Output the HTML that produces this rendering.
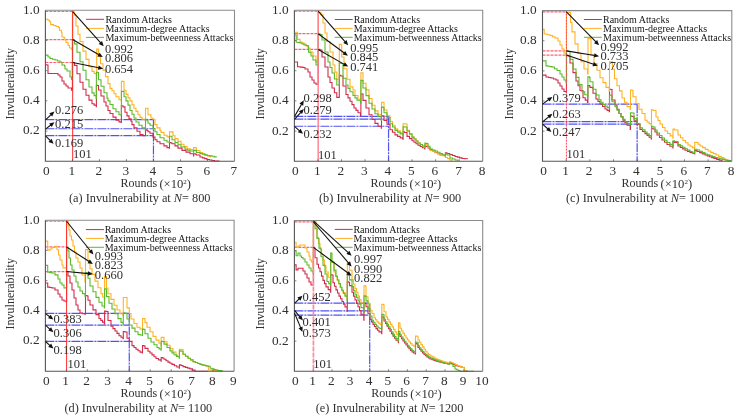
<!DOCTYPE html>
<html><head><meta charset="utf-8"><style>
html,body{margin:0;padding:0;background:#fff;}
svg{display:block;will-change:transform;}
text{font-family:"Liberation Serif",serif;fill:#303030;}
.yt{font-size:13.3px;text-anchor:end;}
.xt{font-size:13.3px;text-anchor:middle;}
.yl,.xl{font-size:12px;}
.yl{text-anchor:middle;}
.cap{font-size:12.3px;}
.lg{font-size:10px;fill:#151515;}
.an{font-size:12.5px;}
.cv{fill:none;stroke-width:1.1;stroke-linejoin:miter;}
.ax{fill:none;stroke:#555;stroke-width:1.1;}
.ax2{fill:none;stroke:#8c8c8c;stroke-width:1.1;}
.tk{stroke:#606060;stroke-width:0.8;}
.rd{stroke:#ff3a4e;stroke-width:1.2;stroke-dasharray:3 1;opacity:.8;}
.rv{}
.bd{stroke:#3434f0;stroke-width:1.2;stroke-dasharray:9 1 2 1;opacity:.85;}
</style></head><body>
<svg width="739" height="418" viewBox="0 0 739 418">
<rect width="739" height="418" fill="#fff"/>
<g><line x1="45.4" y1="11.51" x2="72.68" y2="11.51" class="rd"/><line x1="45.4" y1="39.57" x2="72.68" y2="39.57" class="rd"/><line x1="45.4" y1="62.51" x2="72.68" y2="62.51" class="rd"/><line x1="45.4" y1="119.55" x2="153.46" y2="119.55" class="bd"/><line x1="45.4" y1="128.76" x2="153.46" y2="128.76" class="bd"/><line x1="45.4" y1="135.7" x2="153.46" y2="135.7" class="bd"/><line x1="153.46" y1="119.55" x2="153.46" y2="161.2" class="bd"/><path d="M45.4 64.7H47V65H48V73.5H57V73.5H58V75H60V77H62V81H64V84H66V86H68V88H71.5V90.2H72.4V62.5H74V63H74.5V65.4H77V73.8H80V82.2H83V89.3H86V95.3H89V100.1H92V103.7H94.1V105.15H96.2V106.6H96.4V85.2H97.8V85.5H98.5V90H101V96H104V102H106V106H108V110.5H110V113.5H113V117.1H116V120.1H119V121.9H121.2V122.5H121.4V105.7H123V106.9H125V112.3H127V115.9H129V118.9H131V121.3H132V124.6H134V127.9H137V131.2H140V134.5H143V135.8H145.3V135.8H145.5V129.9H147V130.5H148V131.8H150V133.2H153V137.1H155V139.7H157V141.7H160V143.7H164V145.9H167V147.6H169.3V148.1H169.5V142.5H171V143H172V143.7H175V145.9H178V148.1H182V150.4H186V152.1H190V153.8H193.5V156H193.7V153.8H195.5V154.2H196.5V155H200V157H202.33V157.83H204.67V158.67H207V159.5H209.47V160H211.93V160.5H214.4V161H219.6V161" stroke="#d02c4c" class="cv"/><path d="M45.4 19.3H47.8V19.3H48V20.3H49.7V21.7H50.7V24.6H53.6V25.5H56V26.5H58.5V27.5H59.5V30.3H61.5V32.7H62V37H64V38H65V40H66V42.5H68V45.5H69.5V48H71.5V49.5H72.4V12H74V12H74.5V15.2H76V26H78V34.3H80V41.5H83V51.1H86V59.4H89V66.6H92V71.4H94.2V73.45H96.4V75.5H96.7V49H98V49.2H98.5V56.2H100.5V63.7H103V70.1H105.5V76.6H108V83.6H110V88.4H112V90.8H114V93.8H116V96.7H119V99.7H121.2V100.3H121.4V81.4H123.3V81.4H124V90.2H126V94.4H128V97.9H130V100.9H132V104.9H134V108.2H136V111.4H138V114.7H140V117.4H142V119.3H145.3V120.7H145.5V108.2H147.4V108.2H148V114.7H150.5V115H151V118H153V119.3H155V124.6H157V127.9H160V130.5H161V132.4H164V135.2H167V136.9H169.3V137.5H169.5V131.9H172.4V131.9H173V135.8H175V138.6H178V141.4H181V144.2H184V146.5H187V148.7H190.25V149.55H193.5V150.4H193.7V147.6H195.5V147.8H196.5V150.5H200V152.5H202.5V153.75H205V155H207.7V156.25H210.4V157.5" stroke="#ffb224" class="cv"/><path d="M45.4 55.1H48V57H50V58.5H52.5V59.25H55V60H57.5V61H60V62H61.5V62.5H62V65H64.5V66H65V69H67V71H70V77H71.5V79.5H72.4V39.6H74V40H74.5V43.9H77V52.3H80V61.8H83V70.2H86V79.8H89V87H92V92.9H94.1V95.65H96.2V98.4H96.4V72.3H97.8V72.5H98.5V79.8H101V86.3H104V92.8H107V98.1H108V100.9H110V104.5H113V108.7H116V111.7H119V114.7H121.2V115.3H121.4V91.4H123V91.4H124V96.7H126V100.9H128V105.1H130V110.5H132V114.2H134V118H136V122H139V125.3H142V127.9H145.3V129.9H145.5V119.3H147V120.7H148V123.3H150V125.3H153V128.6H155V131.8H157V134.5H160V137.8H164V140.3H167V142H169.3V142.5H169.5V136.3H171V136.3H172V139.7H175V142.5H178V144.8H181V147H185V149.3H187.5V150.15H190V151H193.5V152.1H193.7V150.4H195.5V150.6H196.5V152.5H200V153.5H202.33V154.17H204.67V154.83H207V155.5H209.5V155.9H212V156.3H214.1V156.9H216.2V157.5" stroke="#5dba2c" class="cv"/><line x1="72.68" y1="10.3" x2="72.68" y2="161.2" class="rv" style="stroke:#ff2a2a;stroke-width:1"/><path d="M45.4 10.3H234.5V161.2" class="ax2"/><path d="M45.4 10.3V161.2H234.5" class="ax"/><line x1="72.41" y1="161.2" x2="72.41" y2="159.2" class="tk"/><line x1="99.43" y1="161.2" x2="99.43" y2="159.2" class="tk"/><line x1="126.44" y1="161.2" x2="126.44" y2="159.2" class="tk"/><line x1="153.46" y1="161.2" x2="153.46" y2="159.2" class="tk"/><line x1="180.47" y1="161.2" x2="180.47" y2="159.2" class="tk"/><line x1="207.49" y1="161.2" x2="207.49" y2="159.2" class="tk"/><line x1="45.4" y1="131.02" x2="47.4" y2="131.02" class="tk"/><line x1="45.4" y1="100.84" x2="47.4" y2="100.84" class="tk"/><line x1="45.4" y1="70.66" x2="47.4" y2="70.66" class="tk"/><line x1="45.4" y1="40.48" x2="47.4" y2="40.48" class="tk"/><text x="39.6" y="134.42" class="yt">0.2</text><text x="39.6" y="104.24" class="yt">0.4</text><text x="39.6" y="74.06" class="yt">0.6</text><text x="39.6" y="43.88" class="yt">0.8</text><text x="39.6" y="13.7" class="yt">1.0</text><text x="46.4" y="175.1" class="xt">0</text><text x="71.71" y="175.1" class="xt">1</text><text x="98.73" y="175.1" class="xt">2</text><text x="125.74" y="175.1" class="xt">3</text><text x="152.76" y="175.1" class="xt">4</text><text x="179.77" y="175.1" class="xt">5</text><text x="206.79" y="175.1" class="xt">6</text><text x="233.8" y="175.1" class="xt">7</text><text transform="translate(14.1 83.75) rotate(-90)" class="yl">Invulnerability</text><text x="120.4" y="187.3" class="xl">Rounds<tspan dx="2.3" dy="0.5" font-size="12.6">(×10</tspan><tspan dy="-4.2" font-size="7">2</tspan><tspan dy="4.2" font-size="12.6">)</tspan></text><text x="69" y="201.8" class="cap">(a) Invulnerability at <tspan font-style="italic">N</tspan>= 800</text><line x1="86" y1="19.3" x2="104" y2="19.3" stroke="#d02c4c" stroke-width="1"/><text x="105.4" y="22.6" class="lg">Random Attacks</text><line x1="86" y1="28.4" x2="104" y2="28.4" stroke="#ffb224" stroke-width="1"/><text x="105.4" y="31.7" class="lg">Maximum-degree Attacks</text><line x1="86" y1="37.4" x2="104" y2="37.4" stroke="#5dba2c" stroke-width="1"/><text x="105.4" y="40.7" class="lg">Maximum-betweenness Attacks</text><line x1="72.68" y1="11.51" x2="100.71" y2="42.94" stroke="#111" stroke-width="1.1"/><path d="M103.7 46.3L98.73 44.03L102.02 41.1Z" fill="#111"/><text x="104.9" y="52.5" class="an">0.992</text><line x1="72.68" y1="39.57" x2="98.91" y2="54.84" stroke="#111" stroke-width="1.1"/><path d="M102.8 57.1L97.37 56.49L99.59 52.68Z" fill="#111"/><text x="104.9" y="62.3" class="an">0.806</text><line x1="72.68" y1="62.51" x2="98.79" y2="67.81" stroke="#111" stroke-width="1.1"/><path d="M103.2 68.7L97.86 69.86L98.74 65.55Z" fill="#111"/><text x="104.9" y="73" class="an">0.654</text><line x1="45.5" y1="119.8" x2="51.11" y2="114.57" stroke="#111" stroke-width="1.1"/><path d="M54.4 111.5L52.24 116.52L49.24 113.3Z" fill="#111"/><text x="55" y="113.9" class="an">0.276</text><line x1="45.5" y1="129.1" x2="50.84" y2="124.96" stroke="#111" stroke-width="1.1"/><path d="M54.4 122.2L51.8 127L49.1 123.52Z" fill="#111"/><text x="55" y="128" class="an">0.215</text><line x1="45.5" y1="135.9" x2="50.38" y2="140.66" stroke="#111" stroke-width="1.1"/><path d="M53.6 143.8L48.48 141.88L51.56 138.73Z" fill="#111"/><text x="55" y="146.6" class="an">0.169</text><text x="73" y="158.4" class="an">101</text></g>
<g><line x1="294.4" y1="11.06" x2="318.17" y2="11.06" class="rd"/><line x1="294.4" y1="33.71" x2="318.17" y2="33.71" class="rd"/><line x1="294.4" y1="49.41" x2="318.17" y2="49.41" class="rd"/><line x1="294.4" y1="116.3" x2="388.55" y2="116.3" class="bd"/><line x1="294.4" y1="119.17" x2="388.55" y2="119.17" class="bd"/><line x1="294.4" y1="126.27" x2="388.55" y2="126.27" class="bd"/><line x1="388.55" y1="116.3" x2="388.55" y2="161.3" class="bd"/><path d="M294.5 62H297V62H297.5V66.7H300.25V67.1H303V67.5H305V69H308V72H310V77H312V80H314V83H316V84.3H318.2V49.4H320V50H322V57H325V67H328V77H330V82.5H332V88H334.4V92.7H336.8V97.4H339V97.4H339.3V75.4H340.8V76H343V86H346V94.5H348V97.85H350V101.2H352V104.6H354V108H356V110.35H358V112.7H360.5V115.6H360.9V93.7H362V94H363V100.4H366V108H369V114.8H372V119.5H375V123.4H378V126.2H381.3V128.2H381.5V115.7H383V116H384V120.5H387V124.3H390V129.7H392.5V132.3H395V134.9H397.6V136.37H400.2V137.83H402.8V139.3H403.1V131.9H404.5V132.5H407V136.4H409.5V138.6H412V140.8H414V142.3H416V143.8H418V145.3H420.23V146.53H422.47V147.77H424.7V149H424.9V146H426V146.5H428V148H430V149.5H432.5V151H435V152.5H437.5V153.75H440V155H442.6V155.5H445.2V156H445.4V152.9H447V153.5H449.67V154.5H452.33V155.5H455V156.5H457.33V157.17H459.67V157.83H462V158.5H464.75V158.75H467.5V159" stroke="#d02c4c" class="cv"/><path d="M294.5 32.2H296.5V32.2H297.5V39.4H300V42H302V43H304V44H306V46H308V48H310V52H313V56H316V62H318.2V12.2H320V12.5H321V14.7H323V23H325V33H327V41.5H330V52H333V65H334.9V72.1H336.8V79.2H339V79.2H339.3V44.2H340.8V44.5H341.7V57H344V68.7H347V79.2H350V86.9H353V90H355V95.5H358V99.3H360.5V100H360.9V72.7H362V72.7H363V83.2H366V89.9H369V98.5H372V105.2H375V110.9H378V114.8H381.3V117.6H381.5V102.3H383V102.5H384V110H387V115.7H390V121.5H392.5V125.2H395V128.9H397.6V130.9H400.2V132.9H402.8V134.9H403.1V123.7H404.5V124H407V130.4H409.5V133.75H412V137.1H414V139.07H416V141.03H418V143H420.23V144.5H422.47V146H424.7V147.5H424.9V144.5H426V145H428V147.7H430V150.4H432.5V151.55H435V152.7H437.5V153.85H440V155H442.6V155.75H445.2V156.5H445.4V157.5H447.6V158.67H449.8V159.83H452V161" stroke="#ffb224" class="cv"/><path d="M294.5 35H295.8V35H296.2V42.3H298.1V42.65H300V43H302V44H304V45H306V45.5H308V46H308.5V52.3H311V56H313V60H316V65H318.2V33.7H320V34.5H322V40H325V52H328V62H330V67.5H332V73H334.4V79H336.8V85H339V85H339.3V63H340.8V63.5H343V78.3H346V85H348V88.35H350V91.7H353V95.5H355V97.9H357V100.3H360.5V103.2H360.9V80.3H362V80.5H363V88H366V95.6H369V103.3H372V109H375V113.8H378V116.7H381.3V120.5H381.5V107.1H383V107.5H384V112.8H387V117.6H390V123.7H392.5V127.05H395V130.4H397.6V132.13H400.2V133.87H402.8V135.6H403.1V126.7H404.5V127H407V131.2H409.5V134.15H412V137.1H414V139.07H416V141.03H418V143H420.23V144.5H422.47V146H424.7V147.5H424.9V143H426V143.5H428V146.25H430V149H432.5V150H435V151H437.5V152.25H440V153.5H442.6V154.75H445.2V156H445.4V153.9H447V155H450V158H452.57V159H455.13V160H457.7V161" stroke="#5dba2c" class="cv"/><line x1="318.17" y1="10.3" x2="318.17" y2="161.3" class="rv" style="stroke:#ff7d90;stroke-width:1.4"/><path d="M294.4 10.3H482.7V161.3" class="ax2"/><path d="M294.4 10.3V161.3H482.7" class="ax"/><line x1="317.94" y1="161.3" x2="317.94" y2="159.3" class="tk"/><line x1="341.47" y1="161.3" x2="341.47" y2="159.3" class="tk"/><line x1="365.01" y1="161.3" x2="365.01" y2="159.3" class="tk"/><line x1="388.55" y1="161.3" x2="388.55" y2="159.3" class="tk"/><line x1="412.09" y1="161.3" x2="412.09" y2="159.3" class="tk"/><line x1="435.62" y1="161.3" x2="435.62" y2="159.3" class="tk"/><line x1="459.16" y1="161.3" x2="459.16" y2="159.3" class="tk"/><line x1="294.4" y1="131.1" x2="296.4" y2="131.1" class="tk"/><line x1="294.4" y1="100.9" x2="296.4" y2="100.9" class="tk"/><line x1="294.4" y1="70.7" x2="296.4" y2="70.7" class="tk"/><line x1="294.4" y1="40.5" x2="296.4" y2="40.5" class="tk"/><text x="288.6" y="134.5" class="yt">0.2</text><text x="288.6" y="104.3" class="yt">0.4</text><text x="288.6" y="74.1" class="yt">0.6</text><text x="288.6" y="43.9" class="yt">0.8</text><text x="288.6" y="13.7" class="yt">1.0</text><text x="295.4" y="175.2" class="xt">0</text><text x="317.24" y="175.2" class="xt">1</text><text x="340.77" y="175.2" class="xt">2</text><text x="364.31" y="175.2" class="xt">3</text><text x="387.85" y="175.2" class="xt">4</text><text x="411.39" y="175.2" class="xt">5</text><text x="434.93" y="175.2" class="xt">6</text><text x="458.46" y="175.2" class="xt">7</text><text x="482" y="175.2" class="xt">8</text><text transform="translate(264 83.8) rotate(-90)" class="yl">Invulnerability</text><text x="370.6" y="187.4" class="xl">Rounds<tspan dx="2.3" dy="0.5" font-size="12.6">(×10</tspan><tspan dy="-4.2" font-size="7">2</tspan><tspan dy="4.2" font-size="12.6">)</tspan></text><text x="319" y="201.9" class="cap">(b) Invulnerability at <tspan font-style="italic">N</tspan>= 900</text><line x1="334.7" y1="19.5" x2="352.7" y2="19.5" stroke="#d02c4c" stroke-width="1"/><text x="353.7" y="22.8" class="lg">Random Attacks</text><line x1="334.7" y1="28.4" x2="352.7" y2="28.4" stroke="#ffb224" stroke-width="1"/><text x="353.7" y="31.7" class="lg">Maximum-degree Attacks</text><line x1="334.7" y1="37.3" x2="352.7" y2="37.3" stroke="#5dba2c" stroke-width="1"/><text x="353.7" y="40.6" class="lg">Maximum-betweenness Attacks</text><line x1="318.17" y1="11.06" x2="345.23" y2="41.82" stroke="#111" stroke-width="1.1"/><path d="M348.2 45.2L343.25 42.9L346.55 39.99Z" fill="#111"/><text x="350.2" y="51.5" class="an">0.995</text><line x1="318.17" y1="33.71" x2="344.28" y2="53.02" stroke="#111" stroke-width="1.1"/><path d="M347.9 55.7L342.57 54.49L345.19 50.96Z" fill="#111"/><text x="350.2" y="61" class="an">0.845</text><line x1="318.17" y1="49.41" x2="344.29" y2="64.36" stroke="#111" stroke-width="1.1"/><path d="M348.2 66.6L342.77 66.02L344.95 62.21Z" fill="#111"/><text x="350.2" y="71" class="an">0.741</text><line x1="294.5" y1="116.6" x2="301.57" y2="104.21" stroke="#111" stroke-width="1.1"/><path d="M303.8 100.3L303.23 105.73L299.41 103.55Z" fill="#111"/><text x="303.6" y="102.2" class="an">0.298</text><line x1="294.5" y1="119.4" x2="300.82" y2="112.27" stroke="#111" stroke-width="1.1"/><path d="M303.8 108.9L302.13 114.1L298.84 111.18Z" fill="#111"/><text x="303.6" y="113.7" class="an">0.279</text><line x1="294.5" y1="126.4" x2="299.61" y2="130.85" stroke="#111" stroke-width="1.1"/><path d="M303 133.8L297.78 132.18L300.67 128.86Z" fill="#111"/><text x="303.6" y="138.2" class="an">0.232</text><text x="318" y="158.7" class="an">101</text></g>
<g><line x1="542.5" y1="11.81" x2="566.4" y2="11.81" class="rd"/><line x1="542.5" y1="50.84" x2="566.4" y2="50.84" class="rd"/><line x1="542.5" y1="55.06" x2="566.4" y2="55.06" class="rd"/><line x1="542.5" y1="104.18" x2="637.15" y2="104.18" class="bd"/><line x1="542.5" y1="121.67" x2="637.15" y2="121.67" class="bd"/><line x1="542.5" y1="124.08" x2="637.15" y2="124.08" class="bd"/><line x1="637.15" y1="104.18" x2="637.15" y2="161.3" class="bd"/><path d="M543 75.1H546V77H548.5V77.5H551V78H553.5V79H556V80H558V83H560V86H562V89H564V91.5H566V91.9H566.5V55.2H568V56H570V63H573V72.6H576V81H578V85.75H580V90.5H583V97.7H585.25V100.1H587.5V102.5H587.9V85.5H589.5V86H590V87.4H593V93.2H596V99H598V101.5H600V104H602.5V106.5H605V109H607.1V110.35H609.2V111.7H609.5V89.2H611V89.5H612V100H615V105H617V109.25H619V113.5H621V116.85H623V120.2H625V122.7H627V125.2H630.2V129.4H630.5V116H632V116.5H634V120.2H637V124.4H640V129.4H642.5V131.5H645V133.6H647.07V135.4H649.13V137.2H651.2V139H651.5V128.3H653V129H655V132H657V135H659.5V137.5H662V140H664.5V142.25H667V144.5H669.9V146.2H672.8V147.9H673V141.5H674.5V142.5H678V146H680.33V147.43H682.67V148.87H685V150.3H687.5V151.4H690V152.5H692.25V153.25H694.5V154H694.7V150.6H697V151.5H699.67V152.67H702.33V153.83H705V155H707.25V155.88H709.5V156.75H711.75V157.62H714V158.5H716.67V159.33H719.33V160.17H722V161" stroke="#d02c4c" class="cv"/><path d="M543 29.4H543.8V29.4H544.2V34H547.1V34.75H550V35.5H552.5V36.75H555V38H558V41H560V45H562V49H564V53H566V54.9H566.5V12.2H569.5V12.5H570.5V22.4H572V31.9H575V43.9H578V53.5H581V61.8H584V69H587.5V74H588V38.6H590V38.6H591V54.9H594V63.5H597V70.2H600V77.8H603V82.6H606V87.4H609.2V91.2H609.5V61.9H611V61.9H612.5V69.3H614.5V78.7H617V85.8H619.5V90.9H622V98H624.5V102.3H627V106.6H630.2V109.5H630.5V90H632V90.5H633V96.8H636V103.5H639V109.3H642V113.5H645V120.2H647.07V121.93H649.13V123.67H651.2V125.4H651.5V109.7H653V110.5H656V117H658V120.5H660V124H662.5V127.5H665V131H667.6V133.43H670.2V135.87H672.8V138.3H673V129H674.5V130H678V135H680.5V137.75H683V140.5H685.5V142.75H688V145H690.17V146.3H692.33V147.6H694.5V148.9H694.7V142.3H696V142.5H698V144.25H700V146H702.67V147.67H705.33V149.33H708V151H710.67V152.33H713.33V153.67H716V155H718.67V156.33H721.33V157.67H724V159H726V160H728V161" stroke="#ffb224" class="cv"/><path d="M543 60.9H546V65.9H548V66.27H550V66.63H552V67H554.5V68.75H557V70.5H560V74H562V77H564V80H566V82.7H566.5V50.7H568V51.5H570V59.4H573V69H576V77.4H579V84.6H582V91.7H584.75V94.7H587.5V97.7H587.9V76.9H589.5V77.5H590V81.7H593V89.3H596V95H599V99.9H601V102.25H603V104.6H605.07V106H607.13V107.4H609.2V108.8H609.5V95H611V95.5H612V101.8H615V106.8H617V110.15H619V113.5H621V116.45H623V119.4H625V121.5H627V123.6H630.2V124.4H630.5V112.7H632V113H634V118.5H637V123.6H640V127.7H642.5V129.85H645V132H647.07V133.83H649.13V135.67H651.2V137.5H651.5V126.3H653V127H655V130H657V133H659.5V135.5H662V138H664.5V140.25H667V142.5H669.9V144.4H672.8V146.3H673V140.7H674.5V141.5H678V144.5H680.33V145.9H682.67V147.3H685V148.7H687.5V150.1H690V151.5H692.25V152.2H694.5V152.9H694.7V149.2H697V150H699.67V151.33H702.33V152.67H705V154H707.5V154.88H710V155.75H712.5V156.62H715V157.5H717.5V158.12H720V158.75H722.5V159.38H725V160H727V160.33H729V160.67H731V161" stroke="#5dba2c" class="cv"/><line x1="566.4" y1="10.6" x2="566.4" y2="161.3" class="rv" style="stroke:#ff4060;stroke-width:1;stroke-dasharray:2 1"/><path d="M542.5 10.6H731.8V161.3" class="ax2"/><path d="M542.5 10.6V161.3H731.8" class="ax"/><line x1="566.16" y1="161.3" x2="566.16" y2="159.3" class="tk"/><line x1="589.83" y1="161.3" x2="589.83" y2="159.3" class="tk"/><line x1="613.49" y1="161.3" x2="613.49" y2="159.3" class="tk"/><line x1="637.15" y1="161.3" x2="637.15" y2="159.3" class="tk"/><line x1="660.81" y1="161.3" x2="660.81" y2="159.3" class="tk"/><line x1="684.47" y1="161.3" x2="684.47" y2="159.3" class="tk"/><line x1="708.14" y1="161.3" x2="708.14" y2="159.3" class="tk"/><line x1="542.5" y1="131.16" x2="544.5" y2="131.16" class="tk"/><line x1="542.5" y1="101.02" x2="544.5" y2="101.02" class="tk"/><line x1="542.5" y1="70.88" x2="544.5" y2="70.88" class="tk"/><line x1="542.5" y1="40.74" x2="544.5" y2="40.74" class="tk"/><text x="536.7" y="134.56" class="yt">0.2</text><text x="536.7" y="104.42" class="yt">0.4</text><text x="536.7" y="74.28" class="yt">0.6</text><text x="536.7" y="44.14" class="yt">0.8</text><text x="536.7" y="14" class="yt">1.0</text><text x="543.5" y="175.2" class="xt">0</text><text x="565.46" y="175.2" class="xt">1</text><text x="589.12" y="175.2" class="xt">2</text><text x="612.79" y="175.2" class="xt">3</text><text x="636.45" y="175.2" class="xt">4</text><text x="660.11" y="175.2" class="xt">5</text><text x="683.77" y="175.2" class="xt">6</text><text x="707.44" y="175.2" class="xt">7</text><text x="731.1" y="175.2" class="xt">8</text><text transform="translate(512.7 83.95) rotate(-90)" class="yl">Invulnerability</text><text x="621.5" y="187.4" class="xl">Rounds<tspan dx="2.3" dy="0.5" font-size="12.6">(×10</tspan><tspan dy="-4.2" font-size="7">2</tspan><tspan dy="4.2" font-size="12.6">)</tspan></text><text x="566" y="201.9" class="cap">(c) Invulnerability at <tspan font-style="italic">N</tspan>= 1000</text><line x1="583.9" y1="19.5" x2="601.8" y2="19.5" stroke="#d02c4c" stroke-width="1"/><text x="603" y="22.8" class="lg">Random Attacks</text><line x1="583.9" y1="28.4" x2="601.8" y2="28.4" stroke="#ffb224" stroke-width="1"/><text x="603" y="31.7" class="lg">Maximum-degree Attacks</text><line x1="583.9" y1="37.3" x2="601.8" y2="37.3" stroke="#5dba2c" stroke-width="1"/><text x="603" y="40.6" class="lg">Maximum-betweenness Attacks</text><line x1="566.4" y1="11.81" x2="595.95" y2="41.98" stroke="#111" stroke-width="1.1"/><path d="M599.1 45.2L594.03 43.17L597.17 40.09Z" fill="#111"/><text x="600.4" y="50.7" class="an">0.992</text><line x1="566.4" y1="50.84" x2="594.66" y2="55.47" stroke="#111" stroke-width="1.1"/><path d="M599.1 56.2L593.81 57.56L594.52 53.22Z" fill="#111"/><text x="600.4" y="59.9" class="an">0.733</text><line x1="566.4" y1="55.06" x2="593.64" y2="64.26" stroke="#111" stroke-width="1.1"/><path d="M597.9 65.7L592.46 66.18L593.87 62.02Z" fill="#111"/><text x="600.4" y="69.6" class="an">0.705</text><line x1="542.5" y1="104.1" x2="548.76" y2="99.55" stroke="#111" stroke-width="1.1"/><path d="M552.4 96.9L549.65 101.62L547.06 98.06Z" fill="#111"/><text x="552.5" y="101.8" class="an">0.379</text><line x1="542.5" y1="122" x2="548.95" y2="116.59" stroke="#111" stroke-width="1.1"/><path d="M552.4 113.7L549.98 118.6L547.16 115.23Z" fill="#111"/><text x="552.5" y="117.9" class="an">0.263</text><line x1="542.5" y1="124.2" x2="548" y2="128.96" stroke="#111" stroke-width="1.1"/><path d="M551.4 131.9L546.18 130.29L549.06 126.96Z" fill="#111"/><text x="552.5" y="135.7" class="an">0.247</text><text x="566.4" y="158.3" class="an">101</text></g>
<g><line x1="45.4" y1="221.26" x2="66.58" y2="221.26" class="rd"/><line x1="45.4" y1="246.94" x2="66.58" y2="246.94" class="rd"/><line x1="45.4" y1="271.57" x2="66.58" y2="271.57" class="rd"/><line x1="45.4" y1="313.43" x2="129.27" y2="313.43" class="bd"/><line x1="45.4" y1="325.06" x2="129.27" y2="325.06" class="bd"/><line x1="45.4" y1="341.38" x2="129.27" y2="341.38" class="bd"/><line x1="129.27" y1="313.43" x2="129.27" y2="371.3" class="bd"/><path d="M45.5 283H47.6V283H47.7V287.1H49.85V287.55H52V288H55V290H58V294H60V297H62V300H64V301H66V301.8H66.6V271.6H68V276H70V283H72V290H74V298H76V305H78V310H80V313H82.5V313.6H85V314.2H85.5V295.5H87V296H88V300.3H90V305H93V309.9H96V314.6H99V318.5H100.77V320.33H102.53V322.17H104.3V324H104.6V311H106V311.5H108V320.5H111V326.2H113V328.6H115V331H117V333.4H119V335.8H121V337.25H123V338.7H123.3V331.5H125V332H127V338.3H129.3V341.4H132V345.6H134V347.45H136V349.3H138V350.7H140V352.1H142.3V353H142.5V345.6H144V346H145V348.4H148V351.2H150V353.05H152V354.9H154V356.7H156V358.5H158.5V359.9H161V361.3H161.2V357.6H162.5V358H164V359.3H166V360.7H168V362.1H170V363.25H172V364.4H174.4V365.7H176.8V367H179.2V368.3H179.4V364.9H181V365.5H183V366.6H185.33V367.37H187.67V368.13H190V368.9H192.5V370.1H195V371.3H208V371.3" stroke="#d02c4c" class="cv"/><path d="M45.5 241.1H47.6V241.1H47.7V250.1H50V249H52V247.5H54.8V246.2H57V249.7H58.5V255H60V260H62V265H63V268H64.5V267.7H66V268.6H66.6V221.3H67.8V221.5H68.2V226H69V230H70V236H71.5V240H73V246H74.5V252H76V258H78V262H80V268H82V275H85V282H85.5V249.6H87V249.6H88V261H90V268.7H92V274.4H95V281.1H98V287.8H101V293.6H102.65V296.95H104.3V300.3H104.6V276.5H106V276.5H106.5V288H108V293.7H111V299.4H114V305.2H117V310H120V313.8H123V315.7H123.3V297.5H126V297.5H127V307.9H129.3V313.5H131V319H134V323.5H137V327.2H140V329H142.3V330H142.5V318.6H144V318.6H145V322.6H147V327.2H150V331.8H153V336.4H156V340.1H159V343.2H161V345.6H161.2V337.4H162.5V337.4H164V341.9H167V345.2H170V348.6H173V352H176V355.4H177.6V356.5H179.2V357.6H179.4V349.2H181V349.5H183V354.2H185.5V356.2H188V358.2H190.5V359.9H193V361.6H195.33V362.53H197.67V363.47H200V364.4H202.05V364.95H204.1V365.5H206.15V366.05H208.2V366.6H208.4V370H210.6V370.17H212.8V370.33H215V370.5H217.33V370.77H219.67V371.03H222V371.3" stroke="#ffb224" class="cv"/><path d="M45.5 265.4H47.6V265.4H47.7V272.2H49.85V272.6H52V273H55V274.9H58V279H60V283H62V285H64V288H66V287.5H66.6V247H68V251H69V258H70.5V265H72V270H74V276H76V282H78V287H80V291H82.5V293.6H85V296.2H85.5V272.5H87V273H88V278.3H90V286H93V291.7H96V297.4H99V302.2H102V306H104.3V308H104.6V288.9H106V289H106.5V296.6H109V303.3H112V309H115V313.8H118V318.6H121V322.4H123V324.5H123.3V312.8H125V313.4H127V319H129.3V325H132V328.1H135V331.8H138V334.6H140.15V335.05H142.3V335.5H142.5V329.1H144V329.5H145V333.7H148V338.3H151V342H154V344.7H157V347.5H159V348.85H161V350.2H161.2V341.3H162.5V341.5H164V344.1H167V347.5H170V350.9H172V352.85H174V354.8H176.6V356.5H179.2V358.2H179.4V350.9H181V351.2H183V354.2H185.5V356.2H188V358.2H190.5V359.9H193V361.6H195.33V362.53H197.67V363.47H200V364.4H202V364.88H204V365.36H206V365.84H208V366.32H210V366.8H210.2V368.3H212.13V368.87H214.07V369.43H216V370H218.17V370.43H220.33V370.87H222.5V371.3" stroke="#5dba2c" class="cv"/><line x1="66.58" y1="220.2" x2="66.58" y2="371.3" class="rv" style="stroke:#ff3030;stroke-width:1"/><path d="M45.4 220.2H234.1V371.3" class="ax2"/><path d="M45.4 220.2V371.3H234.1" class="ax"/><line x1="66.37" y1="371.3" x2="66.37" y2="369.3" class="tk"/><line x1="87.33" y1="371.3" x2="87.33" y2="369.3" class="tk"/><line x1="108.3" y1="371.3" x2="108.3" y2="369.3" class="tk"/><line x1="129.27" y1="371.3" x2="129.27" y2="369.3" class="tk"/><line x1="150.23" y1="371.3" x2="150.23" y2="369.3" class="tk"/><line x1="171.2" y1="371.3" x2="171.2" y2="369.3" class="tk"/><line x1="192.17" y1="371.3" x2="192.17" y2="369.3" class="tk"/><line x1="213.13" y1="371.3" x2="213.13" y2="369.3" class="tk"/><line x1="45.4" y1="341.08" x2="47.4" y2="341.08" class="tk"/><line x1="45.4" y1="310.86" x2="47.4" y2="310.86" class="tk"/><line x1="45.4" y1="280.64" x2="47.4" y2="280.64" class="tk"/><line x1="45.4" y1="250.42" x2="47.4" y2="250.42" class="tk"/><text x="39.6" y="344.48" class="yt">0.2</text><text x="39.6" y="314.26" class="yt">0.4</text><text x="39.6" y="284.04" class="yt">0.6</text><text x="39.6" y="253.82" class="yt">0.8</text><text x="39.6" y="223.6" class="yt">1.0</text><text x="46.4" y="385.2" class="xt">0</text><text x="65.67" y="385.2" class="xt">1</text><text x="86.63" y="385.2" class="xt">2</text><text x="107.6" y="385.2" class="xt">3</text><text x="128.57" y="385.2" class="xt">4</text><text x="149.53" y="385.2" class="xt">5</text><text x="170.5" y="385.2" class="xt">6</text><text x="191.47" y="385.2" class="xt">7</text><text x="212.43" y="385.2" class="xt">8</text><text x="233.4" y="385.2" class="xt">9</text><text transform="translate(14.1 293.75) rotate(-90)" class="yl">Invulnerability</text><text x="120.6" y="397.4" class="xl">Rounds<tspan dx="2.3" dy="0.5" font-size="12.6">(×10</tspan><tspan dy="-4.2" font-size="7">2</tspan><tspan dy="4.2" font-size="12.6">)</tspan></text><text x="64.4" y="411.9" class="cap">(d) Invulnerability at <tspan font-style="italic">N</tspan>= 1100</text><line x1="85.9" y1="229.6" x2="104" y2="229.6" stroke="#d02c4c" stroke-width="1"/><text x="104.7" y="232.9" class="lg">Random Attacks</text><line x1="85.9" y1="238.4" x2="104" y2="238.4" stroke="#ffb224" stroke-width="1"/><text x="104.7" y="241.7" class="lg">Maximum-degree Attacks</text><line x1="85.9" y1="247.3" x2="104" y2="247.3" stroke="#5dba2c" stroke-width="1"/><text x="104.7" y="250.6" class="lg">Maximum-betweenness Attacks</text><line x1="66.58" y1="221.26" x2="90.57" y2="251" stroke="#111" stroke-width="1.1"/><path d="M93.4 254.5L88.55 251.99L91.97 249.23Z" fill="#111"/><text x="94.8" y="259.8" class="an">0.993</text><line x1="66.58" y1="246.94" x2="89.12" y2="261.55" stroke="#111" stroke-width="1.1"/><path d="M92.9 264L87.51 263.13L89.9 259.43Z" fill="#111"/><text x="94.8" y="269" class="an">0.823</text><line x1="66.58" y1="271.57" x2="88.42" y2="273.59" stroke="#111" stroke-width="1.1"/><path d="M92.9 274L87.72 275.73L88.12 271.35Z" fill="#111"/><text x="94.8" y="279.1" class="an">0.660</text><line x1="45.5" y1="313.6" x2="49.79" y2="316.81" stroke="#111" stroke-width="1.1"/><path d="M53.4 319.5L48.08 318.27L50.71 314.75Z" fill="#111"/><text x="53.6" y="322.8" class="an">0.383</text><line x1="45.5" y1="325.2" x2="50.05" y2="329.29" stroke="#111" stroke-width="1.1"/><path d="M53.4 332.3L48.21 330.59L51.15 327.32Z" fill="#111"/><text x="53.6" y="337.1" class="an">0.306</text><line x1="45.5" y1="341.5" x2="50.05" y2="345.59" stroke="#111" stroke-width="1.1"/><path d="M53.4 348.6L48.21 346.89L51.15 343.62Z" fill="#111"/><text x="53.6" y="354" class="an">0.198</text><text x="67.5" y="368.1" class="an">101</text></g>
<g><line x1="294.4" y1="220.95" x2="313.42" y2="220.95" class="rd"/><line x1="294.4" y1="222.01" x2="313.42" y2="222.01" class="rd"/><line x1="294.4" y1="247.34" x2="313.42" y2="247.34" class="rd"/><line x1="294.4" y1="303.14" x2="369.72" y2="303.14" class="bd"/><line x1="294.4" y1="310.83" x2="369.72" y2="310.83" class="bd"/><line x1="294.4" y1="315.05" x2="369.72" y2="315.05" class="bd"/><line x1="369.72" y1="303.14" x2="369.72" y2="371.3" class="bd"/><path d="M294.5 264.9H296V264.9H296.1V269.9H298V268.3H301V268.3H303V271H305V274H307V278H309V282H311V285H313V285H313.4V247.3H314.5V248H315V257.8H317V264.3H318.5V268.05H320V271.8H321.5V276.1H323V280.4H324.5V283.65H326V286.9H328.2V289.6H330.4V292.3H330.7V274.6H331.8V275H333V282.7H334.5V286.3H336V289.9H337.5V293H339V296.1H340.5V298.8H342V301.5H343.5V304.2H345V306.9H347.1V311.4H347.3V281.8H348.5V282.2H349.5V285.6H352V292.3H353.5V296.15H355V300H356.5V303.35H358V306.7H359.5V310.5H361V314.3H363.8V320.1H364V303H365.3V303.5H366V306.8H368V313.5H370V319.4H371.5V321.9H373V324.4H374.5V326.5H376V328.6H377.5V330.25H379V331.9H381.6V333.6H381.8V316.9H383V317.3H384V321H385.5V323.55H387V326.1H388.5V328.6H390V331.1H391.5V333.6H393V336.1H394.5V338.2H396V340.3H398.3V342.8H398.5V333.5H399.5V334H400V336.5H401.5V338.75H403V341H404.5V343H406V345H407.5V346.85H409V348.7H410.5V350.35H412V352H413.65V353H415.3V354H415.5V343.5H416.8V344H418V347.4H419.5V349.3H421V351.2H422.5V352.85H424V354.5H425.5V355.75H427V357H428.5V358H430V359H432V359.73H434V360.47H436V361.2H438V361.73H440V362.27H442V362.8H443.8V363.1H445.6V363.4H447.4V363.7H449.2V364H449.4V362.9H451V363.5H453V364.33H455V365.17H457V366H458.82V366.5H460.65V367H462.48V367.5H464.3V368H464.5V371H467V371.3" stroke="#d02c4c" class="cv"/><path d="M294.5 242.3H296V242.3H296.1V247.3H298.05V246.15H300V245H303V245H305V248H307V252H309V256H310V260H311.5V262H313V266.6H313.4V221H315V221.5H316V228H317V237.4H318.5V243.3H320V249.2H321.5V254.6H323V260H324.5V266H326V272H328.2V277.3H330.4V282.6H330.7V262H332V262.5H334V271.9H335.5V275.95H337V280H338.5V283.6H340V287.2H341.5V289.9H343V292.6H345.05V295.3H347.1V298H347.3V262.7H348.5V263H349.5V270.3H352V279.9H353.5V284.2H355V288.5H356.5V292.3H358V296.1H359.5V299.45H361V302.8H363.8V307.6H364V285.9H365.3V286H366V296.8H368V303.5H370V310.2H372V313.5H374V317.7H375.5V319.8H377V321.9H378.5V323.15H380V324.4H381.6V325.2H381.8V304.3H383V304.5H384V311.8H386V316.9H387.5V319.4H389V321.9H390.5V324.4H392V326.9H393.5V329.4H395V331.9H396.65V334.45H398.3V337H398.5V322.9H399.5V323H400V328.2H401.5V330.8H403V333.4H404.5V335.7H406V338H407.5V340H409V342H410.5V343.65H412V345.3H413.65V346.25H415.3V347.2H415.5V336H416.8V336.3H418V340H419.5V342.3H421V344.6H422.5V346.9H424V349.2H425.5V351.2H427V353.2H428.5V354.5H430V355.8H432V356.9H434V358H436V359.1H438V359.83H440V360.57H442V361.3H443.8V361.85H445.6V362.4H447.4V362.95H449.2V363.5H449.4V361.9H451V362.5H453V363.5H455V364.5H457V365.5H458.82V366.12H460.65V366.75H462.48V367.38H464.3V368H464.5V371H467V371.3" stroke="#ffb224" class="cv"/><path d="M294.5 250.7H296V250.7H296.1V255.7H298V253H300V256H301.5V257.5H303V259H305V262H307V265H309V268H311V271H313V273.3H313.4V222H314.5V222.5H315V228.8H317V238.5H319V248.1H321V256.8H323V265.4H325V274H327V281.5H328.7V283.65H330.4V285.8H330.7V253.1H331.8V253.5H332V262H334V270.1H336V276.4H337.5V280H339V283.6H340.5V287.2H342V290.8H343.5V293.45H345V296.1H347.1V300.6H347.3V275.1H348.5V275.5H349.5V279.9H352V286.6H353.5V290.4H355V294.2H356.5V297.55H358V300.9H359.5V304.25H361V307.6H363.8V312.4H364V295.9H365.3V296.2H366V300.9H368V308.5H370V316H372V320.2H373.5V322.3H375V324.4H376.5V326.05H378V327.7H379.8V328.55H381.6V329.4H381.8V314.3H383V314.6H384V319.4H385.5V321.9H387V324.4H388.5V326.9H390V329.4H391.5V331.9H393V334.4H394.5V336.5H396V338.6H398.3V341.1H398.5V331.4H399.5V331.7H400V334.7H401.5V337H403V339.3H404.5V341.3H406V343.3H407.5V345.25H409V347.2H410.5V348.85H412V350.5H413.65V351.5H415.3V352.5H415.5V342H416.8V342.3H418V345.9H419.5V347.9H421V349.9H422.5V351.55H424V353.2H425.5V354.5H427V355.8H428.5V356.8H430V357.8H432V358.67H434V359.53H436V360.4H438V361.1H440V361.8H442V362.5H443.8V363H445.6V363.5H447.4V364H449.2V364.5H449.4V363H451V364H453V366.5H455V369H456.67V369.77H458.33V370.53H460V371.3H474V371.3" stroke="#5dba2c" class="cv"/><line x1="313.42" y1="220.5" x2="313.42" y2="371.3" class="rv" style="stroke:#ff8a9a;stroke-width:1.7;stroke-dasharray:5 1"/><path d="M294.4 220.5H482.7V371.3" class="ax2"/><path d="M294.4 220.5V371.3H482.7" class="ax"/><line x1="313.23" y1="371.3" x2="313.23" y2="369.3" class="tk"/><line x1="332.06" y1="371.3" x2="332.06" y2="369.3" class="tk"/><line x1="350.89" y1="371.3" x2="350.89" y2="369.3" class="tk"/><line x1="369.72" y1="371.3" x2="369.72" y2="369.3" class="tk"/><line x1="388.55" y1="371.3" x2="388.55" y2="369.3" class="tk"/><line x1="407.38" y1="371.3" x2="407.38" y2="369.3" class="tk"/><line x1="426.21" y1="371.3" x2="426.21" y2="369.3" class="tk"/><line x1="445.04" y1="371.3" x2="445.04" y2="369.3" class="tk"/><line x1="463.87" y1="371.3" x2="463.87" y2="369.3" class="tk"/><line x1="294.4" y1="341.14" x2="296.4" y2="341.14" class="tk"/><line x1="294.4" y1="310.98" x2="296.4" y2="310.98" class="tk"/><line x1="294.4" y1="280.82" x2="296.4" y2="280.82" class="tk"/><line x1="294.4" y1="250.66" x2="296.4" y2="250.66" class="tk"/><text x="288.6" y="344.54" class="yt">0.2</text><text x="288.6" y="314.38" class="yt">0.4</text><text x="288.6" y="284.22" class="yt">0.6</text><text x="288.6" y="254.06" class="yt">0.8</text><text x="288.6" y="223.9" class="yt">1.0</text><text x="295.4" y="385.2" class="xt">0</text><text x="312.53" y="385.2" class="xt">1</text><text x="331.36" y="385.2" class="xt">2</text><text x="350.19" y="385.2" class="xt">3</text><text x="369.02" y="385.2" class="xt">4</text><text x="387.85" y="385.2" class="xt">5</text><text x="406.68" y="385.2" class="xt">6</text><text x="425.51" y="385.2" class="xt">7</text><text x="444.34" y="385.2" class="xt">8</text><text x="463.17" y="385.2" class="xt">9</text><text x="482" y="385.2" class="xt">10</text><text transform="translate(264 293.9) rotate(-90)" class="yl">Invulnerability</text><text x="371.2" y="397.4" class="xl">Rounds<tspan dx="2.3" dy="0.5" font-size="12.6">(×10</tspan><tspan dy="-4.2" font-size="7">2</tspan><tspan dy="4.2" font-size="12.6">)</tspan></text><text x="315.7" y="411.9" class="cap">(e) Invulnerability at <tspan font-style="italic">N</tspan>= 1200</text><line x1="334.8" y1="229.4" x2="352.7" y2="229.4" stroke="#d02c4c" stroke-width="1"/><text x="353.4" y="232.7" class="lg">Random Attacks</text><line x1="334.8" y1="238.4" x2="352.7" y2="238.4" stroke="#ffb224" stroke-width="1"/><text x="353.4" y="241.7" class="lg">Maximum-degree Attacks</text><line x1="334.8" y1="247.3" x2="352.7" y2="247.3" stroke="#5dba2c" stroke-width="1"/><text x="353.4" y="250.6" class="lg">Maximum-betweenness Attacks</text><line x1="313.42" y1="220.95" x2="348.27" y2="252.67" stroke="#111" stroke-width="1.1"/><path d="M351.6 255.7L346.42 253.96L349.38 250.71Z" fill="#111"/><text x="354.1" y="263.2" class="an">0.997</text><line x1="313.42" y1="222.01" x2="348.67" y2="263.09" stroke="#111" stroke-width="1.1"/><path d="M351.6 266.5L346.67 264.14L350.01 261.27Z" fill="#111"/><text x="354.1" y="272.9" class="an">0.990</text><line x1="313.42" y1="247.34" x2="347.99" y2="273.02" stroke="#111" stroke-width="1.1"/><path d="M351.6 275.7L346.27 274.48L348.9 270.95Z" fill="#111"/><text x="354.1" y="281.9" class="an">0.822</text><line x1="294.5" y1="303.3" x2="299.22" y2="298.88" stroke="#111" stroke-width="1.1"/><path d="M302.5 295.8L300.36 300.82L297.35 297.61Z" fill="#111"/><text x="302.6" y="301.1" class="an">0.452</text><line x1="294.5" y1="310.4" x2="300.02" y2="317.04" stroke="#111" stroke-width="1.1"/><path d="M302.9 320.5L298.01 318.06L301.39 315.25Z" fill="#111"/><text x="302.6" y="325.9" class="an">0.401</text><line x1="294.5" y1="313" x2="300.75" y2="327.85" stroke="#111" stroke-width="1.1"/><path d="M302.5 332L298.53 328.25L302.59 326.54Z" fill="#111"/><text x="302.6" y="337.3" class="an">0.373</text><text x="313.2" y="367.9" class="an">101</text></g>
</svg>
</body></html>
